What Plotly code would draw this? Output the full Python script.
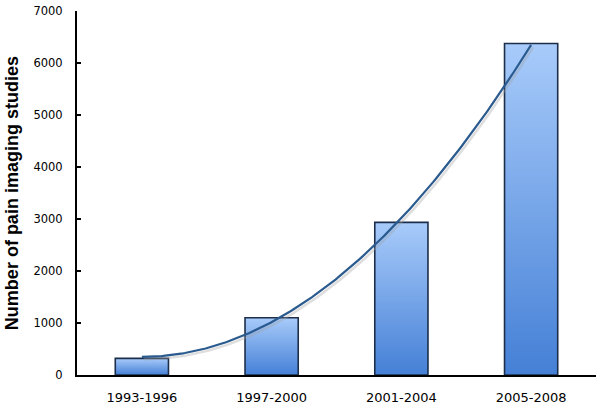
import numpy as np
import plotly.graph_objects as go

categories = ["1993-1996", "1997-2000", "2001-2004", "2005-2008"]
studies = [320, 1100, 2935, 6375]
y_ticks = [0, 1000, 2000, 3000, 4000, 5000, 6000, 7000]

fig = go.Figure()

bar_half = 0.205
idx = np.arange(len(categories))
for i, v in zip(idx, studies):
    xs = [i - bar_half, i + bar_half, i + bar_half, i - bar_half, i - bar_half]
    ys = [0, 0, v, v, 0]
    fig.add_trace(go.Scatter(
        x=xs, y=ys, mode="lines", fill="toself",
        line=dict(color="#1c2e4a", width=1.6),
        fillgradient=dict(type="vertical",
                          colorscale=[[0, "#4580d6"], [1, "#a8cbfa"]]),
        hoverinfo="skip", showlegend=False))

# second-order polynomial trendline of the data
coef = np.polyfit(idx, studies, 2)
xt = np.linspace(idx[0], idx[-1], 200)
yt = np.polyval(coef, xt)
fig.add_trace(go.Scatter(x=xt + 0.015, y=yt - 45, mode="lines",
                         line=dict(color="rgba(160,160,160,0.35)", width=2.5),
                         hoverinfo="skip", showlegend=False))
fig.add_trace(go.Scatter(x=xt, y=yt, mode="lines",
                         line=dict(color="#2b5b8e", width=2.2),
                         hoverinfo="skip", showlegend=False))

fig.update_layout(
    width=601, height=409,
    margin=dict(l=77, r=5, t=11, b=34),
    plot_bgcolor="white", paper_bgcolor="white",
    font=dict(family="DejaVu Sans", color="#000000"),
    xaxis=dict(range=[-0.5, 3.5], tickmode="array", tickvals=list(idx),
               ticktext=categories, showgrid=False, zeroline=False,
               showline=True, linecolor="#000000", linewidth=2,
               ticks="", tickfont=dict(size=13), ticklabelstandoff=9,
               automargin=False),
    yaxis=dict(range=[0, 7000], tickmode="array", tickvals=y_ticks,
               showgrid=False, zeroline=False, showline=True,
               linecolor="#000000", linewidth=2, ticks="inside",
               ticklen=4, tickwidth=1.5, tickcolor="#000000",
               tickfont=dict(size=11.5), ticklabelstandoff=10,
               automargin=False),
    annotations=[dict(text="<b>Number of pain imaging studies</b>",
                      textangle=-90, xref="paper", yref="paper",
                      x=-0.125, y=0.5, xanchor="center", yanchor="middle",
                      showarrow=False,
                      font=dict(family="Liberation Sans", size=18, color="#000000"))],
)

fig.write_html("out.html", config={"displayModeBar": False},
               post_script="document.body.style.margin='0';document.body.style.overflow='hidden';")
